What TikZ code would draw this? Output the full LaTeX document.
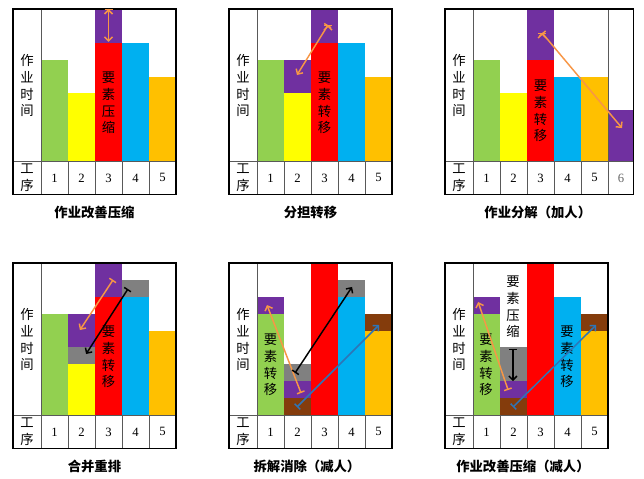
\documentclass[tikz,border=0pt]{standalone}
\usepackage{fontspec}
\setmainfont{Liberation Serif}
\newfontfamily\cjk{Noto Sans CJK SC}
\usetikzlibrary{arrows.meta}
\definecolor{cgreen}{HTML}{92D050}
\definecolor{cyellow}{HTML}{FFFF00}
\definecolor{cred}{HTML}{FF0000}
\definecolor{cblue}{HTML}{00B0F0}
\definecolor{cgold}{HTML}{FFC000}
\definecolor{cpurple}{HTML}{7030A0}
\definecolor{cgray}{HTML}{808080}
\definecolor{cbrown}{HTML}{843C0C}
\definecolor{corange}{HTML}{F79646}
\definecolor{carrow}{HTML}{2E75B6}
\tikzset{font={\fontsize{10pt}{12}\selectfont}}

\begin{document}
\begin{tikzpicture}[x=0.75pt,y=-0.75pt,
    panel/.style={x=20.25pt,y=12.67pt},
    frame/.style={draw=black,line width=0.9pt},
    grid/.style={draw=black!65,line width=0.6pt},
    lab/.style={font=\cjk\fontsize{10}{12.5}\selectfont,align=center,inner sep=0pt},
    num/.style={font=\fontsize{9.5}{11}\selectfont,inner sep=0pt},
    captext/.style={font=\cjk\bfseries\fontsize{10}{12}\selectfont,inner sep=0pt},
    move/.style={line width=1.1pt,{Bar[width=6pt]}-{Straight Barb[length=3pt,width=6pt]}}]

  \useasboundingbox (0,0) rectangle (644,479);

  % panel a: 作业改善压缩
  \begin{scope}[shift={(41,161)},panel]
    \fill[cgreen] (0,0) rectangle (1,6);
    \fill[cyellow] (1,0) rectangle (2,4);
    \fill[cred] (2,0) rectangle (3,7);
    \fill[cpurple] (2,7) rectangle (3,9);
    \fill[cblue] (3,0) rectangle (4,7);
    \fill[cgold] (4,0) rectangle (5,5);
    \draw[grid] (0,-2) -- (0,9) (-1.04,0) -- (5,0);
    \foreach \i in {1,...,4} \draw[grid] (\i,-2) -- (\i,0);
    \draw[frame] (-1.04,-2) rectangle (5,9);
    \node[lab] (a-y) at (-0.52,4.45) {作\\业\\时\\间};
    \node[lab] (a-x) at (-0.52,-1) {工\\序};
    \foreach \i in {1,...,5} \node[num] (a-\i) at (\i-0.5,-1) {\i};
    \node[lab] (a-t) at (2.5,3.43) {要\\素\\压\\缩};
    \coordinate (a-s) at (2.5,9);
    \coordinate (a-e) at (2.5,7.05);
    \path[move,draw=corange] (a-s) edge (a-e);
    \node[captext] (a-c) at (1.98,-3.05) {作业改善压缩};
  \end{scope}

  % panel b: 分担转移
  \begin{scope}[shift={(257,161)},panel]
    \fill[cgreen] (0,0) rectangle (1,6);
    \fill[cyellow] (1,0) rectangle (2,4);
    \fill[cpurple] (1,4) rectangle (2,6);
    \fill[cred] (2,0) rectangle (3,7);
    \fill[cpurple] (2,7) rectangle (3,9);
    \fill[cblue] (3,0) rectangle (4,7);
    \fill[cgold] (4,0) rectangle (5,5);
    \draw[grid] (0,-2) -- (0,9) (-1.04,0) -- (5,0);
    \foreach \i in {1,...,4} \draw[grid] (\i,-2) -- (\i,0);
    \draw[frame] (-1.04,-2) rectangle (5,9);
    \node[lab] (b-y) at (-0.52,4.45) {作\\业\\时\\间};
    \node[lab] (b-x) at (-0.52,-1) {工\\序};
    \foreach \i in {1,...,5} \node[num] (b-\i) at (\i-0.5,-1) {\i};
    \node[lab] (b-t) at (2.5,3.43) {要\\素\\转\\移};
    \coordinate (b-s) at (2.63,8.05);
    \coordinate (b-e) at (1.48,5.09);
    \path[move,draw=corange] (b-s) edge (b-e);
    \node[captext] (b-c) at (1.98,-3.05) {分担转移};
  \end{scope}

  % panel c: 作业分解（加人）
  \begin{scope}[shift={(473,161)},panel]
    \fill[cgreen] (0,0) rectangle (1,6);
    \fill[cyellow] (1,0) rectangle (2,4);
    \fill[cred] (2,0) rectangle (3,6);
    \fill[cpurple] (2,6) rectangle (3,9);
    \fill[cblue] (3,0) rectangle (4,5);
    \fill[cgold] (4,0) rectangle (5,5);
    \fill[cpurple] (5,0) rectangle (5.95,3);
    \draw[grid] (0,-2) -- (0,9) (5,-2) -- (5,9) (-1.04,0) -- (5.95,0);
    \foreach \i in {1,...,4} \draw[grid] (\i,-2) -- (\i,0);
    \draw[frame] (-1.04,-2) rectangle (5.95,9);
    \node[lab] (c-y) at (-0.52,4.45) {作\\业\\时\\间};
    \node[lab] (c-x) at (-0.52,-1) {工\\序};
    \foreach \i in {1,...,5} \node[num] (c-\i) at (\i-0.5,-1) {\i};
    \node[num,text=black!60] (c-6) at (5.48,-1) {6};
    \node[lab] (c-t) at (2.5,2.96) {要\\素\\转\\移};
    \coordinate (c-s) at (2.56,7.58);
    \coordinate (c-e) at (5.52,1.95);
    \path[move,draw=corange] (c-s) edge (c-e);
    \node[captext] (c-c) at (2.4,-3.05) {作业分解（加人）};
  \end{scope}

  % panel d: 合并重排
  \begin{scope}[shift={(41,415)},panel]
    \fill[cgreen] (0,0) rectangle (1,6);
    \fill[cyellow] (1,0) rectangle (2,3);
    \fill[cgray] (1,3) rectangle (2,4);
    \fill[cpurple] (1,4) rectangle (2,6);
    \fill[cred] (2,0) rectangle (3,7);
    \fill[cpurple] (2,7) rectangle (3,9);
    \fill[cblue] (3,0) rectangle (4,7);
    \fill[cgray] (3,7) rectangle (4,8);
    \fill[cgold] (4,0) rectangle (5,5);
    \draw[grid] (0,-2) -- (0,9) (-1.04,0) -- (5,0);
    \foreach \i in {1,...,4} \draw[grid] (\i,-2) -- (\i,0);
    \draw[frame] (-1.04,-2) rectangle (5,9);
    \node[lab] (d-y) at (-0.52,4.45) {作\\业\\时\\间};
    \node[lab] (d-x) at (-0.52,-1) {工\\序};
    \foreach \i in {1,...,5} \node[num] (d-\i) at (\i-0.5,-1) {\i};
    \node[lab] (d-t) at (2.5,3.43) {要\\素\\转\\移};
    \coordinate (d-s1) at (2.67,8.0);
    \coordinate (d-e1) at (1.44,5.03);
    \coordinate (d-s2) at (3.22,7.46);
    \coordinate (d-e2) at (1.67,3.61);
    \path[move]
      (d-s1) edge [draw=corange] (d-e1)
      (d-s2) edge [draw=black] (d-e2);
    \node[captext] (d-c) at (1.98,-3.05) {合并重排};
  \end{scope}

  % panel e: 拆解消除（减人）
  \begin{scope}[shift={(257,415)},panel]
    \fill[cgreen] (0,0) rectangle (1,6);
    \fill[cpurple] (0,6) rectangle (1,7);
    \fill[cbrown] (1,0) rectangle (2,1);
    \fill[cpurple] (1,1) rectangle (2,2);
    \fill[cgray] (1,2) rectangle (2,3);
    \fill[cred] (2,0) rectangle (3,9);
    \fill[cblue] (3,0) rectangle (4,7);
    \fill[cgray] (3,7) rectangle (4,8);
    \fill[cgold] (4,0) rectangle (5,5);
    \fill[cbrown] (4,5) rectangle (5,6);
    \draw[grid] (0,-2) -- (0,9) (-1.04,0) -- (5,0);
    \foreach \i in {1,...,4} \draw[grid] (\i,-2) -- (\i,0);
    \draw[frame] (-1.04,-2) rectangle (5,9);
    \node[lab] (e-y) at (-0.52,4.45) {作\\业\\时\\间};
    \node[lab] (e-x) at (-0.52,-1) {工\\序};
    \foreach \i in {1,...,5} \node[num] (e-\i) at (\i-0.5,-1) {\i};
    \node[lab] (e-t) at (0.5,2.96) {要\\素\\转\\移};
    \coordinate (e-s1) at (1.63,1.30);
    \coordinate (e-e1) at (0.37,6.51);
    \coordinate (e-s2) at (1.41,2.49);
    \coordinate (e-e2) at (3.52,7.58);
    \coordinate (e-s3) at (1.48,0.47);
    \coordinate (e-e3) at (4.52,5.33);
    \path[move]
      (e-s1) edge [draw=corange] (e-e1)
      (e-s2) edge [draw=black] (e-e2)
      (e-s3) edge [draw=carrow] (e-e3);
    \node[captext] (e-c) at (1.85,-3.05) {拆解消除（减人）};
  \end{scope}

  % panel f: 作业改善压缩（减人）
  \begin{scope}[shift={(473,415)},panel]
    \fill[cgreen] (0,0) rectangle (1,6);
    \fill[cpurple] (0,6) rectangle (1,7);
    \fill[cbrown] (1,0) rectangle (2,1);
    \fill[cpurple] (1,1) rectangle (2,2);
    \fill[cgray] (1,2) rectangle (2,4);
    \fill[cred] (2,0) rectangle (3,9);
    \fill[cblue] (3,0) rectangle (4,7);
    \fill[cgold] (4,0) rectangle (5,5);
    \fill[cbrown] (4,5) rectangle (5,6);
    \draw[grid] (0,-2) -- (0,9) (-1.04,0) -- (5,0);
    \foreach \i in {1,...,4} \draw[grid] (\i,-2) -- (\i,0);
    \draw[frame] (-1.04,-2) rectangle (5,9);
    \node[lab] (f-y) at (-0.52,4.45) {作\\业\\时\\间};
    \node[lab] (f-x) at (-0.52,-1) {工\\序};
    \foreach \i in {1,...,5} \node[num] (f-\i) at (\i-0.5,-1) {\i};
    \node[lab] (f-t1) at (0.48,2.96) {要\\素\\转\\移};
    \node[lab] (f-t2) at (1.48,6.39) {要\\素\\压\\缩};
    \node[lab] (f-t3) at (3.48,3.43) {要\\素\\转\\移};
    \coordinate (f-s1) at (1.30,1.48);
    \coordinate (f-e1) at (0.19,6.69);
    \coordinate (f-s2) at (1.48,3.91);
    \coordinate (f-e2) at (1.48,2.01);
    \coordinate (f-s3) at (1.48,0.47);
    \coordinate (f-e3) at (4.56,5.33);
    \path[move]
      (f-s1) edge [draw=corange] (f-e1)
      (f-s2) edge [draw=black] (f-e2)
      (f-s3) edge [draw=carrow] (f-e3);
    \node[captext] (f-c) at (1.85,-3.05) {作业改善压缩（减人）};
  \end{scope}
\end{tikzpicture}
\end{document}
